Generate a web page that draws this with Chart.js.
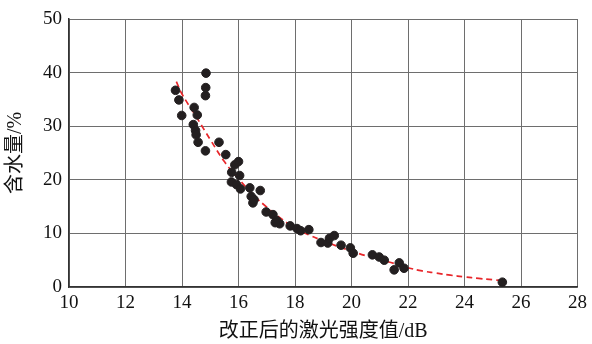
<!DOCTYPE html>
<html>
<head>
<meta charset="utf-8">
<script src="https://cdn.jsdelivr.net/npm/chart.js@4"></script>
<style>
  html, body { margin: 0; padding: 0; background: #fff; }
  #box { width: 592px; height: 344px; }
</style>
</head>
<body>
<div id="box"><canvas id="myChart"></canvas></div>
<script>
// measured points (x = 改正后的激光强度值, y = 含水量)
const pointX = [13.77, 13.89, 13.99, 14.84, 14.85, 14.83, 14.43, 14.54, 14.40, 14.48,
  14.50, 14.57, 15.31, 14.83, 15.55, 15.87, 16.00, 15.76, 16.04, 15.75,
  15.93, 16.07, 16.40, 16.77, 16.45, 16.51, 16.55, 16.98, 17.22, 17.35,
  17.46, 17.30, 17.83, 18.07, 18.20, 18.49, 18.92, 19.16, 19.22, 19.39,
  19.63, 19.96, 20.06, 20.74, 20.98, 21.16, 21.69, 21.51, 21.86, 25.34];
const pointY = [36.7, 34.9, 32.0, 37.2, 39.9, 35.7, 33.5, 32.1, 30.3, 29.2,
  28.4, 27.0, 27.0, 25.4, 24.7, 22.8, 23.4, 21.4, 20.8, 19.6,
  19.1, 18.3, 18.5, 18.0, 16.9, 15.7, 16.3, 14.0, 13.5, 12.4,
  11.8, 12.0, 11.4, 10.9, 10.5, 10.7, 8.3, 8.2, 9.1, 9.6,
  7.8, 7.3, 6.3, 6.0, 5.6, 5.0, 4.5, 3.2, 3.5, 0.9];

// fitted curve
const curveX = [13.8, 14.0, 14.5, 15.0, 15.5, 16.0, 16.5, 17.0, 17.5, 18.0, 18.5, 19.0,
  19.5, 20.0, 20.5, 21.0, 21.5, 22.0, 22.5, 23.0, 23.5, 24.0, 24.5, 25.0, 25.3];
const curveY = [38.3, 36.0, 31.8, 27.5, 23.4, 20.2, 17.3, 14.9, 12.8, 11.0, 9.7, 8.6,
  7.6, 6.7, 5.85, 5.1, 4.4, 3.6, 3.0, 2.6, 2.2, 1.9, 1.6, 1.35, 1.2];

const xTicks = [10, 12, 14, 16, 18, 20, 22, 24, 26, 28];
const yTicks = [0, 10, 20, 30, 40, 50];

const xTitle = '改正后的激光强度值/dB';
const yTitle = '含水量/%';

const scatterData = pointX.map((x, i) => ({ x: x, y: pointY[i] }));
const curveData = curveX.map((x, i) => ({ x: x, y: curveY[i] }));

const tickFont = { family: '"Liberation Serif", "Times New Roman", serif', size: 19 };
const titleFont = { family: '"Liberation Serif", "Noto Sans CJK SC", serif', size: 20 };

const ctx = document.getElementById('myChart').getContext('2d');

new Chart(ctx, {
  type: 'scatter',
  data: {
    datasets: [
      {
        label: '拟合曲线',
        type: 'line',
        data: curveData,
        borderColor: '#e8262a',
        borderWidth: 1.7,
        borderDash: [6, 4],
        pointRadius: 0,
        tension: 0.4,
        fill: false,
        order: 2
      },
      {
        label: '实测值',
        data: scatterData,
        backgroundColor: '#231f20',
        borderColor: '#231f20',
        pointRadius: 4.3,
        order: 1
      }
    ]
  },
  options: {
    responsive: true,
    maintainAspectRatio: false,
    animation: false,
    layout: { padding: { top: 19, right: 13, left: 0, bottom: 0 } },
    plugins: {
      legend: { display: false },
      tooltip: { enabled: false }
    },
    scales: {
      x: {
        type: 'linear',
        min: 10,
        max: 28,
        afterBuildTicks: (axis) => { axis.ticks = xTicks.map(v => ({ value: v })); },
        afterFit: (axis) => { axis.height = 57; },
        grid: { color: '#6e6e6e', lineWidth: 1, drawTicks: false },
        border: { color: '#333', width: 1.5 },
        ticks: { color: '#111', font: tickFont, padding: 5, maxRotation: 0 },
        title: { display: true, text: xTitle, color: '#111', font: titleFont, padding: { top: 0, bottom: 0 } }
      },
      y: {
        type: 'linear',
        min: 0,
        max: 50,
        afterBuildTicks: (axis) => { axis.ticks = yTicks.map(v => ({ value: v })); },
        afterFit: (axis) => { axis.width = 69; },
        grid: { color: '#6e6e6e', lineWidth: 1, drawTicks: false },
        border: { color: '#333', width: 1.5 },
        ticks: { color: '#111', font: tickFont, padding: 7 },
        title: { display: true, text: yTitle, color: '#111', font: titleFont, padding: { top: 4, bottom: 0 } }
      }
    }
  }
});
</script>
</body>
</html>
